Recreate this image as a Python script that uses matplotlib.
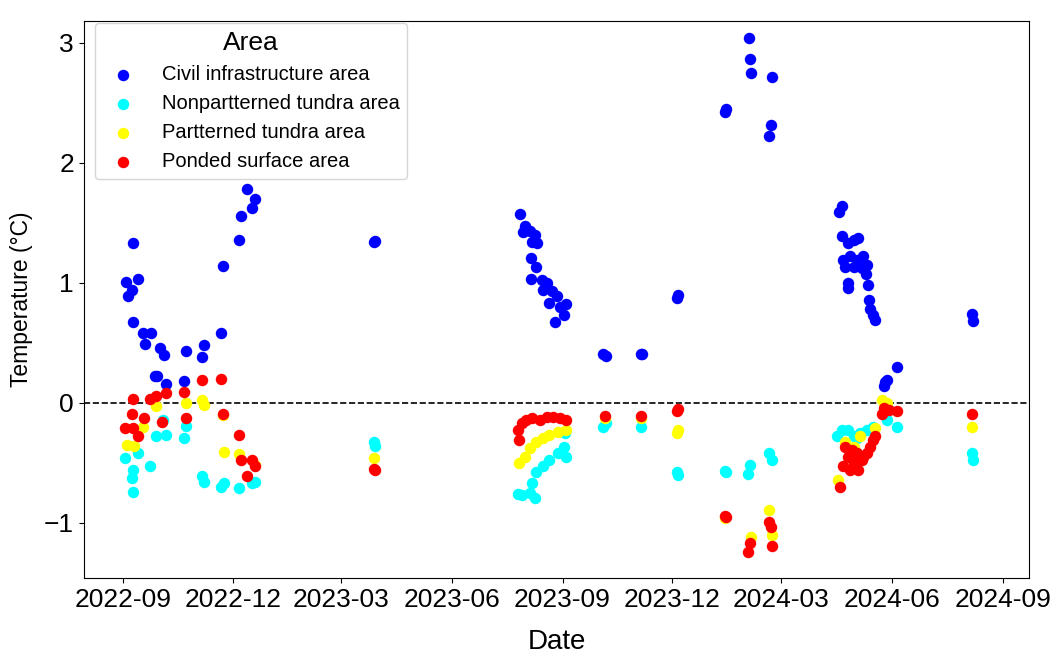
import numpy as np
import pandas as pd
import matplotlib
matplotlib.use("Agg")
import matplotlib.pyplot as plt
import matplotlib.dates as mdates

plt.rcParams["font.family"] = ["Liberation Sans", "DejaVu Sans"]

# values (deg C), one list pair per area
civil_dates = [
    "2022-09-09", "2022-09-03", "2022-09-13", "2022-09-08", "2022-09-05", "2022-09-09",
    "2022-09-17", "2022-09-24", "2022-09-19", "2022-10-01", "2022-10-05", "2022-10-23",
    "2022-11-07", "2022-11-05", "2022-11-21", "2022-09-27", "2022-09-29", "2022-10-06",
    "2022-10-21", "2022-11-23", "2022-12-06", "2022-12-08", "2022-12-13", "2022-12-19",
    "2022-12-17",
    "2023-03-28", "2023-03-29",
    "2023-07-28", "2023-08-01", "2023-07-30", "2023-08-05", "2023-08-09", "2023-08-11",
    "2023-08-07", "2023-08-06", "2023-08-10", "2023-08-06", "2023-08-15", "2023-08-19",
    "2023-08-16", "2023-08-23", "2023-08-27", "2023-08-21", "2023-08-30", "2023-09-04",
    "2023-09-02", "2023-08-26",
    "2023-10-05", "2023-10-07", "2023-11-05", "2023-11-06", "2023-12-05", "2023-12-06",
    "2024-01-14", "2024-01-15", "2024-02-03", "2024-02-04", "2024-02-05",
    "2024-02-22", "2024-02-21", "2024-02-20",
    "2024-04-20", "2024-04-18", "2024-04-20", "2024-04-25", "2024-04-30", "2024-05-04",
    "2024-04-21", "2024-04-27", "2024-05-03", "2024-05-08", "2024-04-23", "2024-04-30",
    "2024-05-07", "2024-05-11", "2024-05-10", "2024-04-25", "2024-04-25", "2024-05-12",
    "2024-05-13", "2024-05-14", "2024-05-16", "2024-05-18", "2024-06-05", "2024-05-26",
    "2024-05-25", "2024-05-28",
    "2024-08-06", "2024-08-07",
]
civil_temp = [
    1.33, 1.01, 1.03, 0.94, 0.89, 0.67,
    0.58, 0.58, 0.49, 0.46, 0.40, 0.43,
    0.48, 0.38, 0.58, 0.22, 0.22, 0.16,
    0.18, 1.14, 1.36, 1.56, 1.78, 1.70,
    1.62,
    1.34, 1.35,
    1.57, 1.47, 1.42, 1.43, 1.40, 1.33,
    1.34, 1.21, 1.13, 1.03, 1.02, 1.00,
    0.94, 0.93, 0.89, 0.83, 0.80, 0.82,
    0.73, 0.67,
    0.41, 0.39, 0.41, 0.41, 0.87, 0.90,
    2.42, 2.45, 3.04, 2.86, 2.75,
    2.71, 2.31, 2.22,
    1.64, 1.59, 1.39, 1.33, 1.36, 1.37,
    1.19, 1.22, 1.19, 1.22, 1.13, 1.13,
    1.12, 1.15, 1.07, 1.00, 0.96, 0.98,
    0.86, 0.78, 0.73, 0.69, 0.30, 0.17,
    0.14, 0.19,
    0.74, 0.68,
]

nonpat_dates = [
    "2022-09-02", "2022-09-09", "2022-09-08", "2022-09-09", "2022-09-23", "2022-09-28",
    "2022-10-06", "2022-10-21", "2022-10-23", "2022-10-04", "2022-11-05", "2022-11-07",
    "2022-11-21", "2022-11-24", "2022-12-06", "2022-12-17", "2022-12-19", "2022-09-13",
    "2023-03-28", "2023-03-29",
    "2023-07-29", "2023-08-05", "2023-08-07", "2023-08-10", "2023-08-16", "2023-08-21",
    "2023-08-28", "2023-09-02", "2023-09-03", "2023-09-04", "2023-08-09", "2023-07-26",
    "2023-10-05", "2023-10-07", "2023-11-05", "2023-12-05", "2023-12-06",
    "2024-01-14", "2024-01-15", "2024-02-02", "2024-02-04", "2024-02-20", "2024-02-22",
    "2024-04-16", "2024-04-20", "2024-04-25", "2024-04-30", "2024-05-05", "2024-05-11",
    "2024-05-16", "2024-05-28", "2024-06-05", "2024-05-03",
    "2024-08-06", "2024-08-07",
]
nonpat_temp = [
    -0.46, -0.56, -0.63, -0.74, -0.53, -0.28,
    -0.27, -0.29, -0.19, -0.14, -0.61, -0.66,
    -0.70, -0.67, -0.71, -0.67, -0.66, -0.42,
    -0.33, -0.36,
    -0.77, -0.75, -0.67, -0.58, -0.53, -0.48,
    -0.42, -0.37, -0.25, -0.45, -0.79, -0.76,
    -0.20, -0.17, -0.20, -0.58, -0.60,
    -0.57, -0.58, -0.59, -0.52, -0.42, -0.48,
    -0.28, -0.23, -0.23, -0.28, -0.25, -0.23,
    -0.20, -0.14, -0.20, -0.29,
    -0.42, -0.48,
]

pat_dates = [
    "2022-11-05", "2022-11-07", "2022-09-04", "2022-09-10", "2022-11-24", "2022-12-06",
    "2022-09-28", "2022-11-23", "2022-09-17", "2022-10-23", "2022-12-19",
    "2023-03-28",
    "2023-07-27", "2023-08-01", "2023-08-05", "2023-08-10", "2023-08-16", "2023-08-21",
    "2023-08-28", "2023-09-04",
    "2023-10-06", "2023-11-05", "2023-12-05", "2023-12-06",
    "2024-01-14", "2024-02-05", "2024-02-20", "2024-02-22",
    "2024-04-17", "2024-05-24", "2024-04-23", "2024-05-05", "2024-05-18", "2024-04-30",
    "2024-05-28",
    "2024-08-06",
]
pat_temp = [
    0.02, -0.02, -0.35, -0.36, -0.41, -0.43,
    -0.03, -0.10, -0.20, 0.00, -0.52,
    -0.46,
    -0.50, -0.45, -0.38, -0.33, -0.29, -0.27,
    -0.24, -0.23,
    -0.13, -0.13, -0.25, -0.23,
    -0.96, -1.12, -0.89, -1.10,
    -0.64, 0.02, -0.33, -0.28, -0.21, -0.37,
    0.00,
    -0.20,
]

ponded_dates = [
    "2022-11-05", "2022-11-21", "2022-10-21", "2022-10-06", "2022-09-28", "2022-09-23",
    "2022-09-09", "2022-09-08", "2022-10-23", "2022-11-23", "2022-09-18", "2022-10-03",
    "2022-09-02", "2022-09-09", "2022-09-13", "2022-12-06", "2022-12-08", "2022-12-17",
    "2022-12-19", "2022-12-13",
    "2023-03-28", "2023-03-29",
    "2023-07-26", "2023-07-29", "2023-08-02", "2023-08-07", "2023-08-13", "2023-08-19",
    "2023-08-24", "2023-08-30", "2023-09-04", "2023-07-27",
    "2023-10-06", "2023-11-05", "2023-12-05", "2023-12-06",
    "2024-01-14", "2024-01-15", "2024-02-04", "2024-02-02",
    "2024-02-20", "2024-02-21", "2024-02-22",
    "2024-05-25", "2024-05-29", "2024-06-05", "2024-05-24", "2024-04-19", "2024-04-21",
    "2024-04-23", "2024-04-25", "2024-04-27", "2024-04-29", "2024-04-30", "2024-05-03",
    "2024-05-04", "2024-05-08", "2024-05-07", "2024-05-11", "2024-05-14", "2024-05-16",
    "2024-05-18",
    "2024-08-06",
]
ponded_temp = [
    0.19, 0.20, 0.09, 0.08, 0.06, 0.03,
    0.03, -0.09, -0.13, -0.09, -0.13, -0.16,
    -0.21, -0.21, -0.28, -0.27, -0.48, -0.48,
    -0.53, -0.61,
    -0.55, -0.56,
    -0.23, -0.17, -0.14, -0.13, -0.14, -0.12,
    -0.12, -0.13, -0.14, -0.31,
    -0.11, -0.11, -0.07, -0.05,
    -0.94, -0.95, -1.17, -1.24,
    -0.99, -1.03, -1.19,
    -0.04, -0.06, -0.07, -0.09, -0.70, -0.53,
    -0.37, -0.45, -0.56, -0.39, -0.50, -0.42,
    -0.56, -0.45, -0.48, -0.42, -0.37, -0.31,
    -0.28,
    -0.09,
]

series = [
    ("Civil infrastructure area", civil_dates, civil_temp, "blue"),
    ("Nonpartterned tundra area", nonpat_dates, nonpat_temp, "cyan"),
    ("Partterned tundra area", pat_dates, pat_temp, "yellow"),
    ("Ponded surface area", ponded_dates, ponded_temp, "red"),
]

fig = plt.figure(figsize=(10.6, 6.57), dpi=100)
ax = fig.add_axes([0.079, 0.120, 0.892, 0.848])

for label, dates, temps, color in series:
    ax.scatter(pd.to_datetime(dates), temps, s=68, color=color, label=label,
               linewidths=0, zorder=3)

ax.axhline(0, color="black", linestyle="--", linewidth=1.2, zorder=2)

ax.set_xlim(pd.Timestamp("2022-07-30"), pd.Timestamp("2024-09-23"))
ax.set_ylim(-1.46, 3.18)
ax.set_yticks([-1, 0, 1, 2, 3])
ax.xaxis.set_major_locator(mdates.MonthLocator(bymonth=[3, 6, 9, 12]))
ax.xaxis.set_major_formatter(mdates.DateFormatter("%Y-%m"))
ax.tick_params(labelsize=19)

ax.set_xlabel("Date", fontsize=20, labelpad=12)
ax.set_ylabel("Temperature (°C)", fontsize=16.5, labelpad=8)

leg = ax.legend(title="Area", loc="upper left", bbox_to_anchor=(0.012, 0.997),
                borderaxespad=0, fontsize=14.5, title_fontsize=19,
                labelspacing=0.5, handletextpad=0.9, markerscale=1.0)

fig.savefig("out.png", dpi=100)
